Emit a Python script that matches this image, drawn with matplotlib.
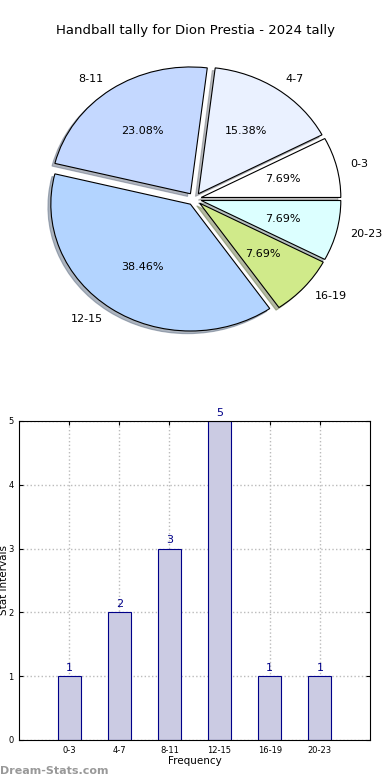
import matplotlib

matplotlib.use("Agg")
import matplotlib.pyplot as plt

TITLE = "Handball tally for Dion Prestia - 2024 tally"
intervals = ["0-3", "4-7", "8-11", "12-15", "16-19", "20-23"]
counts = [1, 2, 3, 5, 1, 1]
slice_colors = ["#ffffff", "#eaf1ff", "#c4d8ff", "#b3d4ff", "#d0ea8a", "#dcffff"]

fig = plt.figure(figsize=(3.9, 7.8), dpi=100)

# pie (slightly squashed, as in the original)
ax_pie = fig.add_axes([0.051, 0.5417, 0.895, 0.4064])
wedges, texts, autotexts = ax_pie.pie(
    counts,
    labels=intervals,
    colors=slice_colors,
    explode=[0.05] * len(counts),
    autopct="%.2f%%",
    shadow={"ox": -0.015, "oy": -0.015, "shade": 0.5},
    startangle=0,
    wedgeprops={"edgecolor": "black", "linewidth": 0.8},
    textprops={"fontsize": 8},
)
ax_pie.set_aspect("auto")
ax_pie.set_xlim(-1.25, 1.25)
ax_pie.set_ylim(-1.25, 1.25)
ax_pie.axis("off")
fig.text(0.5, 0.961, TITLE, ha="center", va="center", fontsize=9.5)

# bars
ax_bar = fig.add_axes([0.0487, 0.0513, 0.9, 0.409])
xs = list(range(len(intervals)))
ax_bar.bar(xs, counts, width=0.46, color="#cbcbe3", edgecolor="#000088", linewidth=0.8, zorder=2)
for x, c in zip(xs, counts):
    ax_bar.text(x, c + 0.05, str(c), ha="center", va="bottom", fontsize=8, color="#000088", clip_on=False)
ax_bar.set_xlim(-1, 6)
ax_bar.set_ylim(0, 5)
ax_bar.set_xticks(xs)
ax_bar.set_xticklabels(intervals)
ax_bar.set_yticks(range(6))
ax_bar.tick_params(labelsize=6, direction="in", top=True, right=True, length=3, pad=4)
ax_bar.grid(True, linestyle=":", color="#bbbbbb", linewidth=1, zorder=0)
ax_bar.set_xlabel("Frequency", fontsize=7.5, labelpad=1)
ax_bar.set_ylabel("Stat Intervals", fontsize=7.5)
ax_bar.yaxis.set_label_coords(-0.028, 0.5)

fig.text(0.0, 0.012, "Dream-Stats.com", fontsize=8, color="#999999", fontweight="bold", ha="left", va="center")

fig.savefig("out.png", dpi=100)
plt.close(fig)
